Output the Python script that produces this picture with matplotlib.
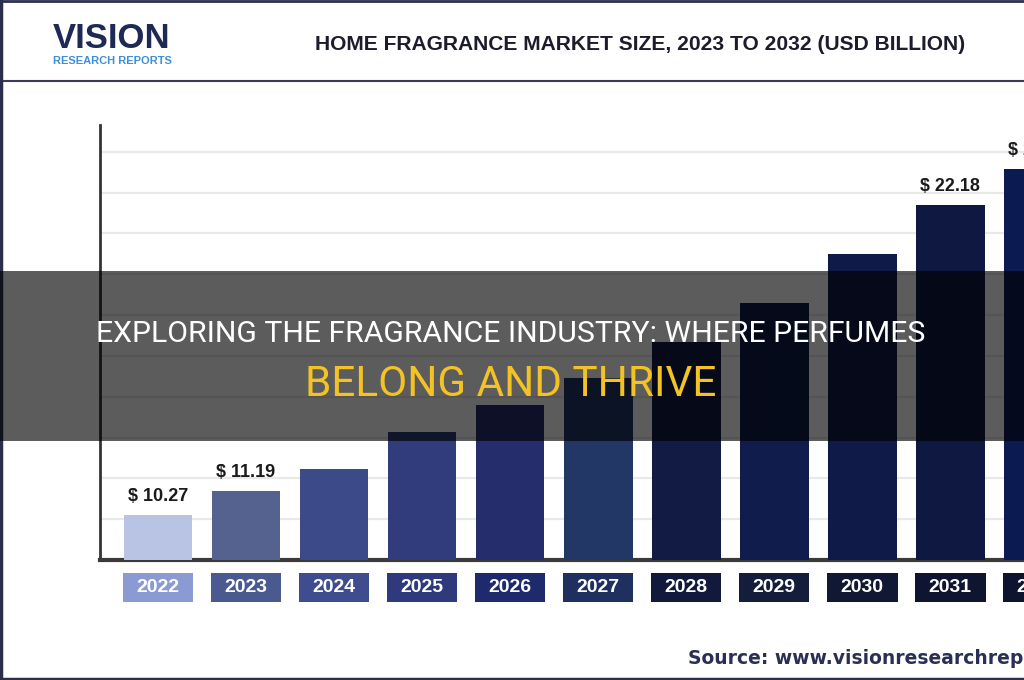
import matplotlib
matplotlib.use("Agg")
import matplotlib.pyplot as plt
from matplotlib.patches import Rectangle
from matplotlib.transforms import blended_transform_factory
from matplotlib.lines import Line2D

# ---- data ----
years = ["2022", "2023", "2024", "2025", "2026", "2027", "2028", "2029", "2030", "2031", "2032"]
values = [10.27, 11.19, 12.04, 13.46, 14.50, 15.53, 16.92, 18.42, 20.30, 22.18, 23.56]
labelled_years = ["2022", "2023", "2031", "2032"]
bar_colors = ["#b9c3e3", "#55628f", "#3d4a89", "#313c7c", "#252d6c", "#233766",
              "#121b44", "#101c4c", "#0f1a48", "#0e1840", "#0c1a52"]
box_colors = ["#8c9ad3", "#4b5991", "#3f4d8e", "#2f3a7c", "#1e2a6c", "#1f3060",
              "#111a3d", "#141d3c", "#101833", "#0f1530", "#0e1430"]
title = "HOME FRAGRANCE MARKET SIZE, 2023 TO 2032 (USD BILLION)"
banner_line1 = "EXPLORING THE FRAGRANCE INDUSTRY: WHERE PERFUMES"
banner_line2 = "BELONG AND THRIVE"
source = "Source: www.visionresearchreports.com"

W, H = 1024, 680
fig = plt.figure(figsize=(W / 100, H / 100), dpi=100)
fig.patch.set_facecolor("white")
renderer = fig.canvas.get_renderer()


def fx(px):
    return px / W


def fy(py):
    return 1 - py / H


def fit(t, target_w):
    bb = t.get_window_extent(renderer)
    if bb.width > 0:
        t.set_fontsize(t.get_fontsize() * target_w / bb.width)


narrow = ["Liberation Sans", "DejaVu Sans"]
banner_font = ["Roboto", "Liberation Sans", "DejaVu Sans"]

# axes geometry (pixels)
ax_left, ax_right, ax_top, ax_bottom = 100, 1100, 125, 560
ax = fig.add_axes([fx(ax_left), fy(ax_bottom), fx(ax_right - ax_left), (ax_bottom - ax_top) / H])
ax.set_facecolor("white")
x = list(range(len(years)))
ax.set_xlim(-0.659, 10.70)
ymin, ymax = 8.541, 25.25
ax.set_ylim(ymin, ymax)

ax.bar(x, values, width=0.78, color=bar_colors, zorder=3)

# gridlines
grid_step = 1.568
g = ymin + grid_step
ticks = []
while g < ymax - 0.5:
    ticks.append(g)
    g += grid_step
ax.set_yticks(ticks)
ax.yaxis.grid(True, color="#e9e9e9", linewidth=1.6, zorder=0)
ax.tick_params(left=False, bottom=False, labelleft=False, labelbottom=False)
for s in ["top", "right"]:
    ax.spines[s].set_visible(False)
ax.spines["left"].set_color("#333333")
ax.spines["left"].set_linewidth(2.0)
ax.spines["bottom"].set_color("#3a3a3a")
ax.spines["bottom"].set_linewidth(3.0)

# value labels
for xi, yr, v in zip(x, years, values):
    if yr in labelled_years:
        t = ax.annotate(f"$ {v:.2f}", (xi, v), xytext=(0, 7), textcoords="offset points",
                        ha="center", va="bottom", fontsize=15, fontweight="bold",
                        family=narrow, color="#1b1b1b", zorder=4)
        fit(t, 60)

# year boxes below axis
trans = blended_transform_factory(ax.transData, ax.transAxes)
box_top = -(573 - ax_bottom) / (ax_bottom - ax_top)
box_bot = -(602 - ax_bottom) / (ax_bottom - ax_top)
for xi, yr, c in zip(x, years, box_colors):
    r = Rectangle((xi - 0.4, box_bot), 0.8, box_top - box_bot, transform=trans,
                  facecolor=c, edgecolor="none", clip_on=False)
    ax.add_patch(r)
    t = ax.text(xi, (box_top + box_bot) / 2, yr, transform=trans, ha="center", va="center",
                color="white", fontsize=14, fontweight="bold", family=narrow, clip_on=False)
    fit(t, 43)

# header
t = fig.text(fx(640), fy(45), title, ha="center", va="center", fontsize=19,
             fontweight="bold", family=narrow, color="#1c1c2c")
fit(t, 652)
t = fig.text(fx(53), fy(38), "VISION", ha="left", va="center", fontsize=25,
             fontweight="bold", family=narrow, color="#1e2a55")
fit(t, 118)
t = fig.text(fx(53), fy(61), "RESEARCH REPORTS", ha="left", va="center", fontsize=7.2,
             fontweight="bold", family=narrow, color="#3d8fd8")
fit(t, 119)
fig.add_artist(Line2D([0, 1], [fy(81), fy(81)], color="#3a3d55", linewidth=1.5,
                      transform=fig.transFigure))

# frame
fig.add_artist(Line2D([fx(1), fx(1)], [0, 1], color="#2c2f4c", linewidth=2.5,
                      transform=fig.transFigure))
fig.add_artist(Line2D([0, 1], [fy(1), fy(1)], color="#2c2f4c", linewidth=2.0,
                      transform=fig.transFigure))
fig.add_artist(Line2D([0, 1], [fy(679), fy(679)], color="#2c2f4c", linewidth=2.5,
                      transform=fig.transFigure))

# source
fig.text(fx(688), fy(659), source, ha="left", va="center", fontsize=13.5,
         fontweight="bold", family=["DejaVu Sans"], color="#2a2f55")

# overlay banner
band = Rectangle((0, fy(441)), 1, fy(271) - fy(441), transform=fig.transFigure,
                 facecolor="black", alpha=0.64, edgecolor="none", zorder=10)
fig.add_artist(band)
t = fig.text(fx(511), fy(334), banner_line1, ha="center", va="center", fontsize=20,
             family=banner_font, color="white", zorder=11)
fit(t, 827)
t = fig.text(fx(511), fy(384), banner_line2, ha="center", va="center", fontsize=26,
             family=banner_font, color="#f3c224", zorder=11)
fit(t, 411)

fig.savefig("out.png", dpi=100)
